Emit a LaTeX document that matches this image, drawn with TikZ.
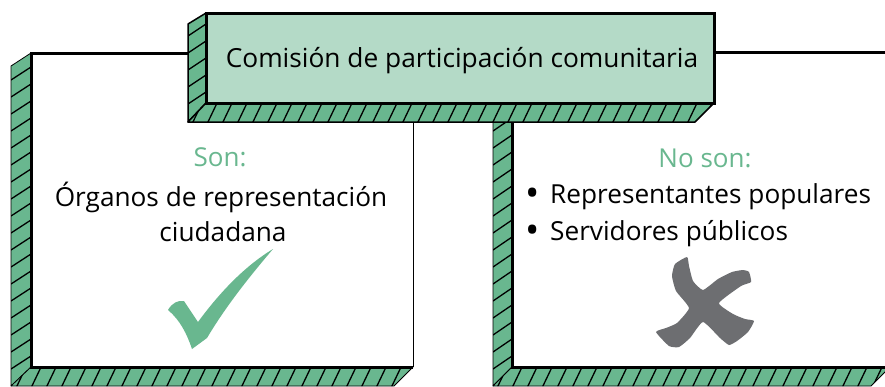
\documentclass[tikz,border=0pt]{standalone}
\usepackage{fontspec}
\setmainfont{Open Sans}
\usepackage{xcolor}
\usetikzlibrary{calc}
\definecolor{bevelgreen}{HTML}{69B78F}
\definecolor{facegreen}{HTML}{B4DAC7}
\definecolor{crossgray}{HTML}{6D6E71}
\tikzset{
	face/.style={draw=black, line width=3pt, line join=miter},
	bevel/.style={fill=bevelgreen, draw=black, line width=0.8pt, line join=round},
	hatch/.style={black, line width=1.3pt},
	titletext/.style={font=\fontsize{26.3}{30}\selectfont, inner sep=0pt, anchor=base},
	headtext/.style={font=\fontsize{26}{30}\selectfont, text=bevelgreen, inner sep=0pt, anchor=base},
	bodytext/.style={font=\fontsize{26.2}{30}\selectfont, inner sep=0pt, anchor=base}
}
\newcommand{\bigbullet}{\makebox[25pt][l]{\raisebox{-3.5pt}{\fontsize{38}{30}\selectfont\textbullet}}}

\begin{document}
\begin{tikzpicture}[x=1pt, y=-1pt]
	\useasboundingbox (0,0) rectangle (885,386);
	\clip (0,0) rectangle (885,386);

	\fill[white] (0,0) rectangle (885,386);

	\path[bevel] (31,53) -- (11,66) -- (11,386) -- (31,367) -- cycle;
	\begin{scope}
		\clip (31,53) -- (11,66) -- (11,386) -- (31,367) -- cycle;
		\foreach \y in {80,97,...,400}
			\draw[hatch] (11,\y) -- (31,\y-13);
	\end{scope}
	\path[bevel] (31,367) -- (413,367) -- (394,386) -- (11,386) -- cycle;
	\begin{scope}
		\clip (31,367) -- (413,367) -- (394,386) -- (11,386) -- cycle;
		\foreach \x in {16,31,...,420}
			\draw[hatch] (\x,388) -- (\x+11,365);
	\end{scope}
	\draw[face] (413,53) -- (31,53) -- (31,367) -- (413,367);
	\draw[black, line width=1pt] (413,53) -- (413,367);

	\path[bevel] (512,52) -- (493,71) -- (493,386) -- (512,367) -- cycle;
	\begin{scope}
		\clip (512,52) -- (493,71) -- (493,386) -- (512,367) -- cycle;
		\foreach \y in {80,97,...,400}
			\draw[hatch] (493,\y) -- (512,\y-13);
	\end{scope}
	\path[bevel] (512,367) -- (890,367) -- (871,386) -- (493,386) -- cycle;
	\begin{scope}
		\clip (512,367) -- (890,367) -- (871,386) -- (493,386) -- cycle;
		\foreach \x in {497,512,...,890}
			\draw[hatch] (\x,388) -- (\x+11,365);
	\end{scope}
	\draw[face] (890,52) -- (512,52) -- (512,367) -- (890,367);

	\path[bevel, line width=1.5pt] (206,13) -- (188,24) -- (188,122) -- (206,103) -- cycle;
	\begin{scope}
		\clip (206,13) -- (188,24) -- (188,122) -- (206,103) -- cycle;
		\foreach \y in {36,53,...,130}
			\draw[hatch] (188,\y) -- (206,\y-12);
	\end{scope}
	\path[bevel, line width=1.5pt] (206,103) -- (714,103) -- (695,122) -- (188,122) -- cycle;
	\begin{scope}
		\clip (206,103) -- (714,103) -- (695,122) -- (188,122) -- cycle;
		\foreach \x in {192,207,...,720}
			\draw[hatch] (\x,124) -- (\x+11,101);
	\end{scope}
	\draw[face, fill=facegreen] (206,13) rectangle (714,103);

	\node[titletext] (title) at (462,67) {Comisión de participación comunitaria};

	\node[headtext] (son) at (220,166) {Son:};
	\node[bodytext] (organos) at (221,206) {Órganos de representación};
	\node[bodytext] (ciudadana) at (223,241) {ciudadana};

	\node[headtext] (noson) at (705,167) {No son:};
	\node[bodytext, anchor=base west] (representantes) at (525,203) {\bigbullet Representantes populares};
	\node[bodytext, anchor=base west] (servidores) at (525,240) {\bigbullet Servidores públicos};

	\fill[bevelgreen] (168,310) .. controls (172,303) and (178,300) .. (184,301)
		-- (198,322) .. controls (220,292) and (245,266) .. (273,249)
		.. controls (250,276) and (226,306) .. (207,338)
		-- (192,349) .. controls (187,334) and (180,320) .. (168,310) -- cycle;

	\fill[crossgray] plot[smooth cycle, tension=0.3] coordinates {
		(689,308) (676,291) (672,276) (675,264) (687,257) (689,266) (693,281) (703,290)
		(718,279) (732,272) (743,270) (749,272) (751,282) (741,286) (719,303)
		(733,314) (745,319) (754,321) (748,332) (737,341) (729,345) (720,338) (703,322)
		(690,338) (679,347) (669,346) (656,332) (666,328) (677,323)};
\end{tikzpicture}
\end{document}
